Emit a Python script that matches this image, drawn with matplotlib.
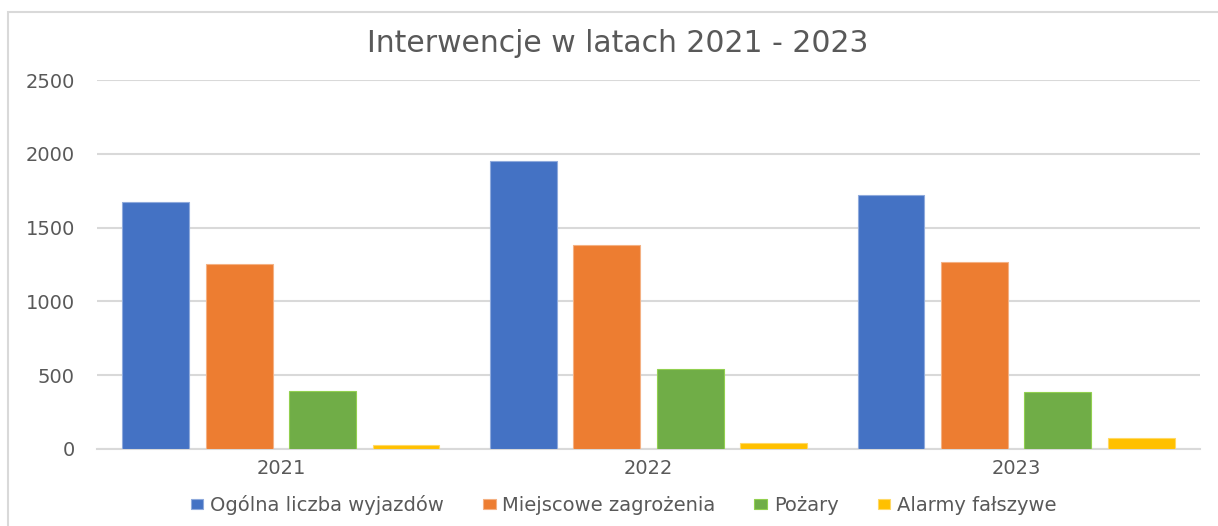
import numpy as np
import matplotlib.pyplot as plt
from matplotlib.patches import Rectangle

years = ["2021", "2022", "2023"]
ogolna = [1675, 1953, 1723]
miejscowe = [1255, 1380, 1267]
pozary = [395, 542, 388]
alarmy = [29, 41, 72]

series = [
    ("Ogólna liczba wyjazdów", ogolna, "#4472C4", "#8faadc"),
    ("Miejscowe zagrożenia", miejscowe, "#ED7D31", "#f4b183"),
    ("Pożary", pozary, "#70AD47", "#92d050"),
    ("Alarmy fałszywe", alarmy, "#FFC000", "#ffd966"),
]

plt.rcParams["font.family"] = ["DejaVu Sans"]
text_grey = "#595959"
grid_grey = "#d9d9d9"

fig = plt.figure(figsize=(12.18, 5.26), dpi=100)
ax = fig.add_axes([97 / 1218, 1 - 449 / 526, (1200 - 97) / 1218, (449 - 80) / 526])

# chart border like in Excel
fig.patches.append(Rectangle((8 / 1218, -0.1), 1.2, 1 - 12 / 526 + 0.1,
                             transform=fig.transFigure, fill=False,
                             edgecolor=grid_grey, linewidth=1.5))

x = np.arange(len(years))
pitch = 0.227
width = 0.182
for i, (name, vals, col, edge) in enumerate(series):
    ax.bar(x + (i - 1.5) * pitch, vals, width, color=col, edgecolor=edge,
           linewidth=0.8, label=name, zorder=3)

ax.set_xlim(-0.5, 2.5)
ax.set_ylim(0, 2500)
ax.set_yticks(np.arange(0, 2501, 500))
ax.set_xticks(x)
ax.set_xticklabels(years)
ax.grid(axis="y", color=grid_grey, linewidth=1.5, zorder=0)
for s in ["top", "right", "left"]:
    ax.spines[s].set_visible(False)
ax.spines["bottom"].set_color(grid_grey)
ax.spines["bottom"].set_linewidth(1.5)
ax.tick_params(length=0, labelsize=14, colors=text_grey)
ax.tick_params(axis="y", pad=16)
ax.tick_params(axis="x", pad=7)

fig.text(0.507, 1 - 43 / 526, "Interwencje w latach 2021 - 2023", ha="center",
         va="center", fontsize=21.5, color=text_grey)

leg = fig.legend(loc="center", bbox_to_anchor=(0.512, 1 - 505 / 526), ncol=4,
                 frameon=False, fontsize=14, labelcolor=text_grey,
                 handlelength=0.65, handleheight=0.45, handletextpad=0.35,
                 columnspacing=2.0)

fig.savefig("out.png", dpi=100)
